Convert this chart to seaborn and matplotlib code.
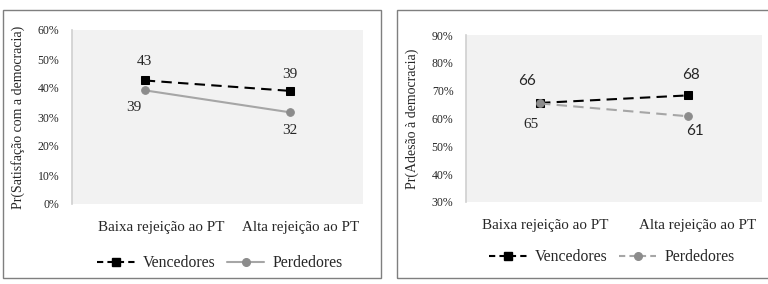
import matplotlib
matplotlib.use("Agg")
import matplotlib.pyplot as plt
from matplotlib.patches import Rectangle
from matplotlib.lines import Line2D
import seaborn as sns
import pandas as pd

# ---- data ----
categorias = ["Baixa rejeição ao PT", "Alta rejeição ao PT"]
grupos = ["Vencedores", "Perdedores"]

satisf_vencedores = [42.6, 39.0]
satisf_perdedores = [39.2, 31.6]

adesao_vencedores = [65.6, 68.3]
adesao_perdedores = [65.4, 60.8]

ticks_satisf = [0, 10, 20, 30, 40, 50, 60]
ticks_adesao = [30, 40, 50, 60, 70, 80, 90]

ylabel_satisf = "Pr(Satisfação com a democracia)"
ylabel_adesao = "Pr(Adesão à democracia)"

sns.set_theme(style="white")
plt.rcParams["font.family"] = ["Liberation Serif", "DejaVu Serif"]

W, H = 768, 284
fig = plt.figure(figsize=(W / 100, H / 100), dpi=100)

def fx(px):
    return px / W

def fy(py):
    return 1 - py / H

# panel borders
for (x0, y0, x1, y1) in [(3, 10, 381, 278), (397, 10, 772, 278)]:
    fig.patches.append(Rectangle((fx(x0), fy(y1)), fx(x1 - x0), (y1 - y0) / H,
                                 transform=fig.transFigure, fill=False,
                                 edgecolor="#7f7f7f", linewidth=1.0))

BLACK = "#000000"
GRAY_LINE = "#a6a6a6"
GRAY_MARK = "#8c8c8c"
SERIF = ["Liberation Serif", "DejaVu Serif"]
SANS = ["Lato", "DejaVu Sans"]

def make_panel(rect_px, venc, perd, ticks, ylabel, perd_style, label_fonts,
               label_offsets, legend_center, perd_on_top, xlabel_shift):
    x0, y0, x1, y1 = rect_px
    ax = fig.add_axes([fx(x0), fy(y1), fx(x1 - x0), (y1 - y0) / H])
    ax.set_facecolor("#f2f2f2")
    df = pd.DataFrame({
        "cat": categorias * 2,
        "val": list(venc) + list(perd),
        "grupo": [grupos[0]] * 2 + [grupos[1]] * 2,
    })
    dv = df[df.grupo == grupos[0]]
    dp = df[df.grupo == grupos[1]]
    sns.lineplot(data=dv, x="cat", y="val", ax=ax, color=BLACK, linewidth=1.5,
                 linestyle=(0, (5, 3)), marker="s", markersize=5.5,
                 markerfacecolor=BLACK, markeredgecolor=BLACK, zorder=3, sort=False)
    sns.lineplot(data=dp, x="cat", y="val", ax=ax, color=GRAY_LINE, linewidth=1.5,
                 linestyle=perd_style, marker="o", markersize=5.5,
                 markerfacecolor=GRAY_MARK, markeredgecolor=GRAY_MARK,
                 zorder=4 if perd_on_top else 2, sort=False)
    ax.set_xlim(-0.5, 1.5)
    ax.set_ylim(ticks[0], ticks[-1])
    ax.set_yticks(ticks)
    ax.set_yticklabels([f"{t}%" for t in ticks], fontsize=8.5)
    ax.set_xticks([0, 1])
    ax.set_xticklabels([])
    # category labels (placed at category positions, shifted like the original)
    for i, (cat, dx) in enumerate(zip(categorias, xlabel_shift)):
        ax.annotate(cat, (i, 0), xycoords=ax.get_xaxis_transform(),
                    xytext=(dx, -24), textcoords="offset pixels",
                    ha="center", va="center", fontsize=10.8, color="#262626")
    ax.tick_params(axis="y", length=0, pad=9)
    ax.tick_params(axis="x", length=0)
    ax.set_xlabel("")
    ax.set_ylabel(ylabel, fontsize=10, labelpad=9)
    for s in ["top", "right", "bottom"]:
        ax.spines[s].set_visible(False)
    ax.spines["left"].set_color("#d0d0d0")
    ax.spines["left"].set_linewidth(1.2)
    if ax.get_legend():
        ax.get_legend().remove()
    # data labels
    for serie, offs, fonts in zip([venc, perd], label_offsets, label_fonts):
        for i, v in enumerate(serie):
            ax.annotate(f"{v:.0f}", (i, v), xytext=offs[i], textcoords="offset pixels",
                        ha="center", va="center", fontsize=11,
                        family=fonts[i], color="#262626")
    # legend
    handles = [
        Line2D([], [], color=BLACK, linewidth=1.5, linestyle=(0, (3, 2)), marker="s",
               markersize=5.5, markerfacecolor=BLACK, markeredgecolor=BLACK),
        Line2D([], [], color=GRAY_LINE, linewidth=1.5,
               linestyle=perd_style if perd_style == "-" else (0, (3, 2)),
               marker="o", markersize=5.5, markerfacecolor=GRAY_MARK, markeredgecolor=GRAY_MARK),
    ]
    fig.legend(handles, grupos, loc="center", bbox_to_anchor=(fx(legend_center[0]), fy(legend_center[1])),
               ncol=2, frameon=False, fontsize=11.3, handlelength=2.4, handletextpad=0.5,
               columnspacing=0.7)
    return ax

make_panel((72, 30, 363, 204), satisf_vencedores, satisf_perdedores, ticks_satisf,
           ylabel_satisf, "-", [[SERIF, SERIF], [SERIF, SERIF]],
           [[(0, 19), (0, 16)], [(-11, -17), (0, -18)]], (220, 263), False, (16, 10))

make_panel((466, 35, 762, 202), adesao_vencedores, adesao_perdedores, ticks_adesao,
           ylabel_adesao, (0, (5, 3)), [[SANS, SANS], [SERIF, SANS]],
           [[(-13, 22), (3, 20)], [(-9, -21), (7, -15)]], (612, 257), True, (5, 10))

fig.savefig("out.png", dpi=100)
